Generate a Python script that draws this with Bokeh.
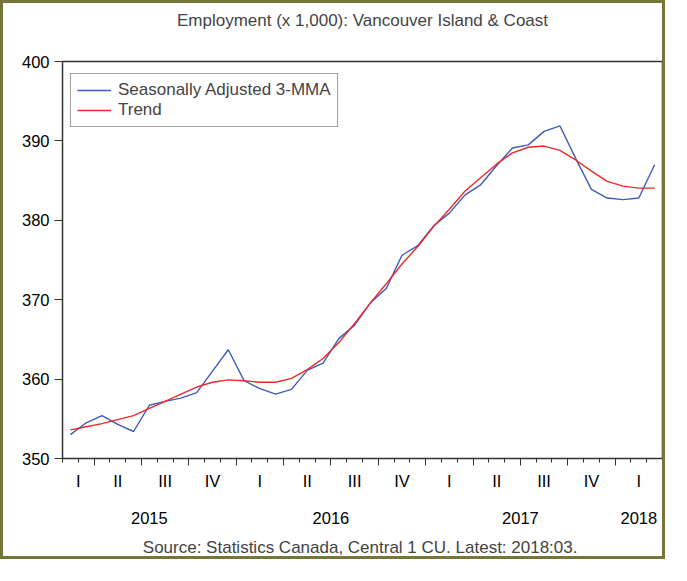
import numpy as np
import pandas as pd
from bokeh.plotting import figure
from bokeh.models import (FixedTicker, LinearAxis, Title, Legend, LegendItem)
from bokeh.embed import file_html
from bokeh.resources import INLINE

# ---- data (monthly, Feb 2015 .. Mar 2018) ----
months = [str(p) for p in pd.period_range("2015-02", "2018-03", freq="M")]
sa_3mma = [353.0, 354.5, 355.4, 354.3, 353.4, 356.7, 357.2, 357.6, 358.3, 361.0,
           363.7, 359.8, 358.8, 358.1, 358.7, 361.1, 362.0, 365.1, 366.8, 369.6,
           371.4, 375.6, 376.8, 379.3, 380.9, 383.2, 384.5, 386.9, 389.1, 389.5,
           391.2, 391.9, 387.8, 383.9, 382.8, 382.6, 382.8, 387.0]
trend = [353.6, 354.0, 354.4, 354.9, 355.4, 356.3, 357.2, 358.1, 359.0, 359.6,
         359.9, 359.8, 359.6, 359.6, 360.1, 361.2, 362.6, 364.6, 367.0, 369.6,
         372.0, 374.5, 376.7, 379.2, 381.4, 383.7, 385.4, 387.1, 388.5, 389.2,
         389.35, 388.8, 387.6, 386.2, 384.9, 384.3, 384.05, 384.05]
quarter_names = ["I", "II", "III", "IV"]
y_ticks = [350, 360, 370, 380, 390, 400]

FONT = "Liberation Sans"
BLUE = "#3d5cbc"
RED = "#f0282a"
TICK_FS = "16.5px"
TEXT_FS = "17px"

per = pd.PeriodIndex(months, freq="M")
n = len(months)
x = np.arange(n) + 0.5

# month boundaries, quarter boundaries, quarter centres, year centres
month_edges = list(range(n + 1))
q_edges = [i for i in range(1, n) if per[i].month in (1, 4, 7, 10)] + [n]
quarters = [(per[i].year, (per[i].month - 1) // 3) for i in range(n)]
q_centres, q_labels = [], []
for q in dict.fromkeys(quarters):
    idx = [i for i in range(n) if quarters[i] == q]
    q_centres.append((idx[0] + idx[-1] + 1) / 2)
    q_labels.append(quarter_names[q[1]])
years = [per[i].year for i in range(n)]
y_centres, y_labels = [], []
for yv in dict.fromkeys(years):
    idx = [i for i in range(n) if years[i] == yv]
    y_centres.append((idx[0] + idx[-1] + 1) / 2)
    y_labels.append(str(yv))

p = figure(width=665, height=559, x_range=(0, n), y_range=(350, 400),
           output_backend="svg", toolbar_location=None,
           min_border_left=59, min_border_right=6, min_border_top=58,
           min_border_bottom=104)
p.styles = {"border": "3px solid #75753a"}
p.background_fill_color = "white"
p.border_fill_color = "white"
p.grid.visible = False
p.outline_line_color = "#333333"
p.outline_line_width = 1.5

p.title.text = "Employment (x 1,000): Vancouver Island & Coast"
p.title.align = "center"
p.title.text_font = FONT
p.title.text_font_size = TEXT_FS
p.title.text_font_style = "normal"
p.title.standoff = 0

# spacer between title and frame
p.add_layout(Title(text=" ", text_font_size="10px", standoff=19), "above")

# y axis
ya = p.yaxis[0]
ya.ticker = FixedTicker(ticks=y_ticks, minor_ticks=[])
ya.major_tick_in = 0
ya.major_tick_out = 8
ya.major_label_standoff = 5
ya.major_label_text_font = FONT
ya.major_label_text_font_size = TICK_FS
ya.major_label_text_color = "black"
ya.axis_line_color = "#333333"
ya.major_tick_line_color = "#333333"

# x axis: ticks only
xa = p.xaxis[0]
xa.ticker = FixedTicker(ticks=q_edges, minor_ticks=month_edges)
xa.major_tick_in = 0
xa.major_tick_out = 7
xa.minor_tick_in = 0
xa.minor_tick_out = 4
xa.major_label_text_font_size = "1px"
xa.major_label_text_alpha = 0
xa.major_label_standoff = 0
xa.axis_line_color = "#333333"
xa.major_tick_line_color = "#333333"
xa.minor_tick_line_color = "#333333"

# quarter labels
qa = LinearAxis(ticker=FixedTicker(ticks=q_centres, minor_ticks=[]),
                major_label_overrides={c: l for c, l in zip(q_centres, q_labels)})
qa.axis_line_color = None
qa.major_tick_line_color = None
qa.major_tick_out = 0
qa.major_tick_in = 0
qa.major_label_standoff = 6
qa.major_label_text_font = FONT
qa.major_label_text_font_size = TICK_FS
qa.major_label_text_color = "black"
p.add_layout(qa, "below")

# year labels
yr = LinearAxis(ticker=FixedTicker(ticks=y_centres, minor_ticks=[]),
                major_label_overrides={c: l for c, l in zip(y_centres, y_labels)})
yr.axis_line_color = None
yr.major_tick_line_color = None
yr.major_tick_out = 0
yr.major_tick_in = 0
yr.major_label_standoff = 19
yr.major_label_text_font = FONT
yr.major_label_text_font_size = TICK_FS
yr.major_label_text_color = "black"
p.add_layout(yr, "below")

# spacer + source line
p.add_layout(Title(text=" ", text_font_size="7px", standoff=0), "below")
src = Title(text="Source:  Statistics Canada, Central 1 CU. Latest: 2018:03.",
            align="center", text_font=FONT, text_font_size=TEXT_FS,
            text_font_style="normal", standoff=0)
p.add_layout(src, "below")

r1 = p.line(x, sa_3mma, line_color=BLUE, line_width=1.4)
r2 = p.line(x, trend, line_color=RED, line_width=1.4)

leg = Legend(items=[LegendItem(label="Seasonally Adjusted 3-MMA", renderers=[r1]),
                    LegendItem(label="Trend", renderers=[r2])],
             location=(8, 331))
leg.label_text_font = FONT
leg.label_text_font_size = TEXT_FS
leg.glyph_width = 34
leg.glyph_height = 20
leg.label_height = 20
leg.label_standoff = 7
leg.spacing = 0
leg.padding = 6
leg.margin = 0
leg.border_line_color = "#444444"
leg.border_line_width = 1
leg.background_fill_alpha = 1
p.add_layout(leg)

open("out.html", "w").write(file_html(p, INLINE))
